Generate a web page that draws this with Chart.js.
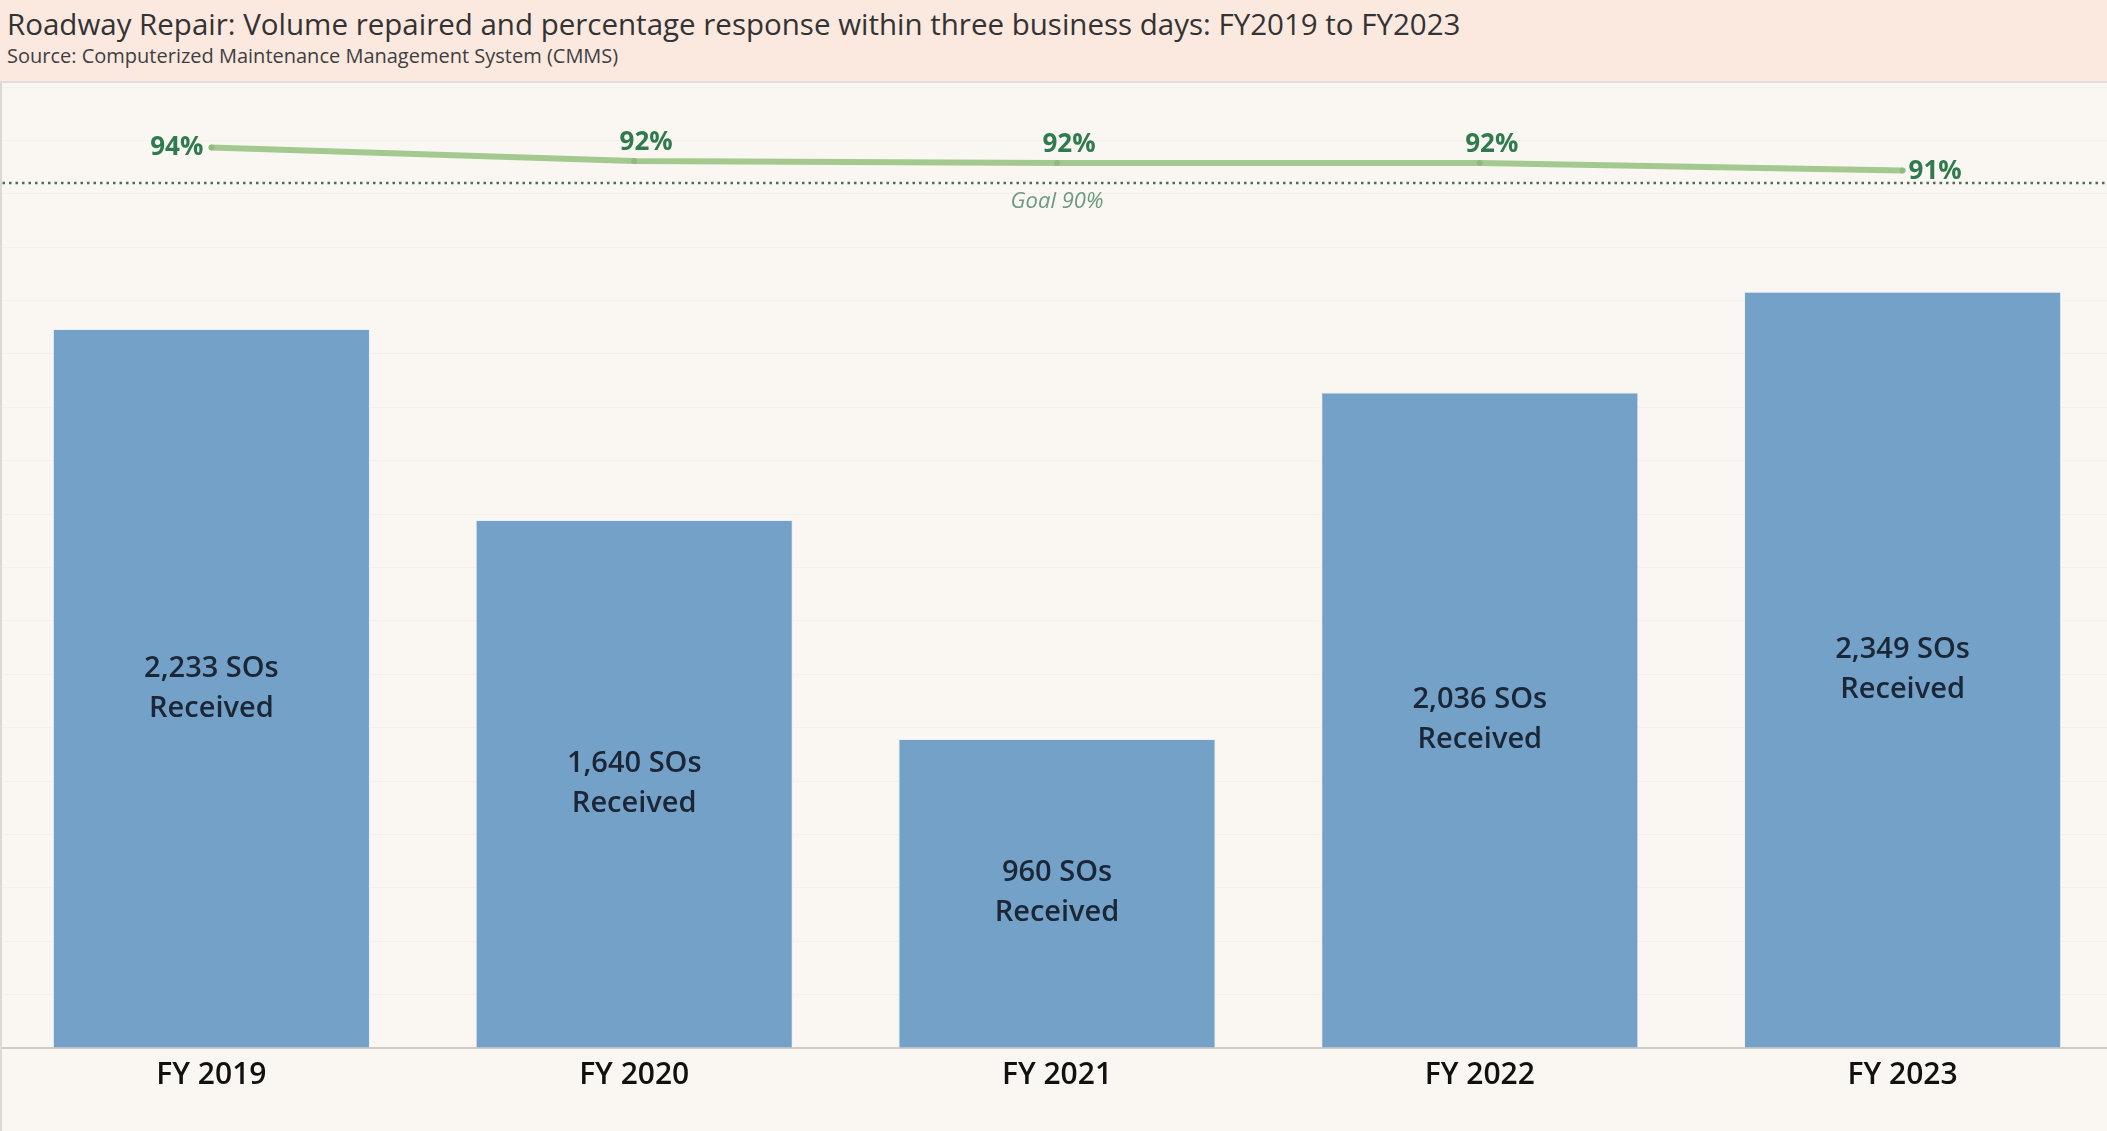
<!DOCTYPE html>
<html>
<head>
<meta charset="utf-8">
<script src="https://cdn.jsdelivr.net/npm/chart.js@4"></script>
<style>
  html, body { margin: 0; padding: 0; width: 2107px; height: 1131px; overflow: hidden; background: #faf6f2; font-family: "Open Sans", sans-serif; }
  .header { height: 81px; background: #fbe8df; border-bottom: 2px solid #e2ddd8; position: relative; }
  .title { position: absolute; left: 7px; top: 3px; font-size: 29.5px; color: #333; white-space: nowrap; }
  .sub { position: absolute; left: 7px; top: 42px; font-size: 20px; color: #3f3f3f; white-space: nowrap; }
  .panel { position: absolute; left: 0; top: 83px; width: 2107px; height: 1048px; overflow: hidden; }
  .panel canvas { position: absolute; left: -4px; top: 0; }
  .edge { position: absolute; left: 0; top: 83px; width: 2px; height: 1048px; background: #dcd8d4; }
</style>
</head>
<body>
<div class="header">
  <div class="title">Roadway Repair: Volume repaired and percentage response within three business days: FY2019 to FY2023</div>
  <div class="sub">Source: Computerized Maintenance Management System (CMMS)</div>
</div>
<div class="panel"><canvas id="chart" width="2122" height="1048"></canvas></div>
<div class="edge"></div>
<script>
// values
const categories = ['FY 2019', 'FY 2020', 'FY 2021', 'FY 2022', 'FY 2023'];
const received = [2233, 1640, 960, 2036, 2349];
const responsePct = [93.7, 92.3, 92.1, 92.1, 91.3];
const goalPct = 90;

// bar text inside each bar
const barLabels = {
  id: 'barLabels',
  afterDatasetsDraw(chart) {
    const ctx = chart.ctx;
    const meta = chart.getDatasetMeta(1);
    ctx.save();
    ctx.font = '600 29px "Open Sans"';
    ctx.fillStyle = '#1b2636';
    ctx.textAlign = 'center';
    ctx.textBaseline = 'middle';
    meta.data.forEach((bar, i) => {
      const mid = (bar.y + bar.base) / 2;
      ctx.fillText(received[i].toLocaleString('en-US') + ' SOs', bar.x, mid - 20);
      ctx.fillText('Received', bar.x, mid + 20);
    });
    ctx.restore();
  }
};

// goal line and percent labels
const goalLine = {
  id: 'goalLine',
  beforeDatasetsDraw(chart) {
    const ctx = chart.ctx, area = chart.chartArea;
    const y = chart.scales.y2.getPixelForValue(goalPct);
    ctx.save();
    ctx.strokeStyle = '#4f6b5c';
    ctx.lineWidth = 2.5;
    ctx.setLineDash([2.5, 4]);
    ctx.beginPath();
    ctx.moveTo(0, y);
    ctx.lineTo(chart.width, y);
    ctx.stroke();
    ctx.setLineDash([]);
    ctx.font = 'italic 22px "Open Sans"';
    ctx.fillStyle = '#6d9a82';
    ctx.textAlign = 'center';
    ctx.textBaseline = 'middle';
    ctx.fillText('Goal ' + goalPct + '%', (area.left + area.right) / 2, y + 19);
    ctx.restore();
  },
  afterDatasetsDraw(chart) {
    const ctx = chart.ctx;
    const pts = chart.getDatasetMeta(0).data;
    ctx.save();
    ctx.font = 'bold 26px "Open Sans"';
    ctx.fillStyle = '#2f7a4e';
    ctx.textBaseline = 'middle';
    pts.forEach((p, i) => {
      const txt = Math.round(responsePct[i]) + '%';
      if (i === 0) {
        ctx.textAlign = 'right';
        ctx.fillText(txt, p.x - 8, p.y);
      } else if (i === pts.length - 1) {
        ctx.textAlign = 'left';
        ctx.fillText(txt, p.x + 6, p.y + 1);
      } else {
        ctx.textAlign = 'center';
        ctx.fillText(txt, p.x + 12, p.y - 18);
      }
    });
    ctx.restore();
  }
};

new Chart(document.getElementById('chart'), {
  data: {
    labels: categories,
    datasets: [
      {
        type: 'line',
        label: 'Response within 3 days',
        data: responsePct,
        yAxisID: 'y2',
        borderColor: '#a4c98f',
        borderWidth: 6,
        pointRadius: 3,
        pointBackgroundColor: '#93b981',
        pointBorderWidth: 0,
        tension: 0,
        order: 0
      },
      {
        type: 'bar',
        label: 'SOs Received',
        data: received,
        yAxisID: 'y',
        backgroundColor: '#74a1c7',
        borderColor: '#e9f0f6',
        borderWidth: 1,
        barPercentage: 0.75,
        categoryPercentage: 1,
        order: 1
      }
    ]
  },
  options: {
    responsive: false,
    animation: false,
    layout: { padding: 0 },
    plugins: { legend: { display: false }, tooltip: { enabled: false } },
    scales: {
      x: {
        grid: { display: false, drawTicks: false },
        border: { color: '#cfcac5', width: 2 },
        ticks: { color: '#111', font: { family: 'Open Sans', size: 30, weight: '600' }, padding: 9 },
        afterFit(s) { s.height = 83; }
      },
      y: {
        min: 0, max: 2985,
        position: 'left',
        grid: { color: 'rgba(0,0,0,0.022)', drawTicks: false },
        border: { display: false },
        ticks: { display: false, count: 19 },
        afterFit(s) { s.width = 0; }
      },
      y2: {
        min: 0, max: 100,
        position: 'right',
        grid: { display: false },
        border: { display: false },
        ticks: { display: false },
        afterFit(s) { s.width = 0; }
      }
    }
  },
  plugins: [barLabels, goalLine]
});
</script>
</body>
</html>
